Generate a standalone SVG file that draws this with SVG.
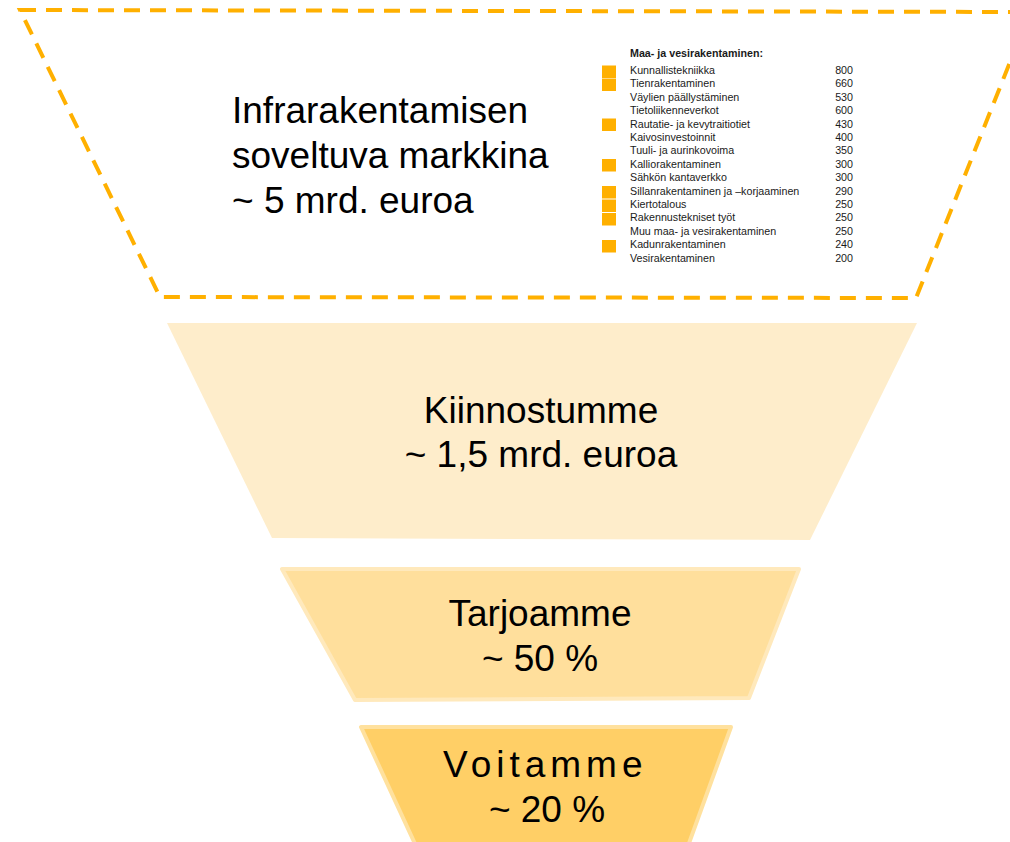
<svg xmlns="http://www.w3.org/2000/svg" width="1010" height="842" viewBox="0 0 1010 842">
<style>
.big{font-family:"Liberation Sans",Arial,sans-serif;font-size:37px;fill:#000}
.c{text-anchor:middle}
.lg{font-family:"Liberation Sans",Arial,sans-serif;font-size:10.7px;fill:#1a1a1a}
.v{text-anchor:end}
.sq{fill:#FFB000}
</style>
<rect width="1010" height="842" fill="#fff"/>
<g id="market">
<path d="M20 10 L1030 12 L916 298 L160 297 Z" fill="none" stroke="#FFB000" stroke-width="4" stroke-dasharray="16 10"/>
<text class="big" x="232" y="123">Infrarakentamisen</text>
<text class="big" x="232" y="168">soveltuva markkina</text>
<text class="big" x="232" y="213">~ 5 mrd. euroa</text>
</g>
<g id="legend">
<text class="lg" x="630" y="57" font-weight="bold">Maa- ja vesirakentaminen:</text>
<rect class="sq" x="602" y="65.5" width="14" height="12.5"/>
<rect class="sq" x="602" y="78.5" width="14" height="12.5"/>
<rect class="sq" x="602" y="118.5" width="14" height="12.5"/>
<rect class="sq" x="602" y="159" width="14" height="12.5"/>
<rect class="sq" x="602" y="186" width="14" height="12.5"/>
<rect class="sq" x="602" y="199.5" width="14" height="12.5"/>
<rect class="sq" x="602" y="213" width="14" height="12.5"/>
<rect class="sq" x="602" y="240" width="14" height="12.5"/>
<text class="lg" x="630" y="74">Kunnallistekniikka</text><text class="lg v" x="853" y="74">800</text>
<text class="lg" x="630" y="87.4">Tienrakentaminen</text><text class="lg v" x="853" y="87.4">660</text>
<text class="lg" x="630" y="100.8">Väylien päällystäminen</text><text class="lg v" x="853" y="100.8">530</text>
<text class="lg" x="630" y="114.2">Tietoliikenneverkot</text><text class="lg v" x="853" y="114.2">600</text>
<text class="lg" x="630" y="127.6">Rautatie- ja kevytraitiotiet</text><text class="lg v" x="853" y="127.6">430</text>
<text class="lg" x="630" y="141">Kaivosinvestoinnit</text><text class="lg v" x="853" y="141">400</text>
<text class="lg" x="630" y="154.4">Tuuli- ja aurinkovoima</text><text class="lg v" x="853" y="154.4">350</text>
<text class="lg" x="630" y="167.8">Kalliorakentaminen</text><text class="lg v" x="853" y="167.8">300</text>
<text class="lg" x="630" y="181.2">Sähkön kantaverkko</text><text class="lg v" x="853" y="181.2">300</text>
<text class="lg" x="630" y="194.6">Sillanrakentaminen ja –korjaaminen</text><text class="lg v" x="853" y="194.6">290</text>
<text class="lg" x="630" y="208">Kiertotalous</text><text class="lg v" x="853" y="208">250</text>
<text class="lg" x="630" y="221.4">Rakennustekniset työt</text><text class="lg v" x="853" y="221.4">250</text>
<text class="lg" x="630" y="234.8">Muu maa- ja vesirakentaminen</text><text class="lg v" x="853" y="234.8">250</text>
<text class="lg" x="630" y="248.2">Kadunrakentaminen</text><text class="lg v" x="853" y="248.2">240</text>
<text class="lg" x="630" y="261.6">Vesirakentaminen</text><text class="lg v" x="853" y="261.6">200</text>
</g>
<g id="interest">
<path d="M167 323 L917 323 L810 540 L272 538 Z" fill="#FEEDCB"/>
<text class="big c" x="541" y="423">Kiinnostumme</text>
<text class="big c" x="541" y="467">~ 1,5 mrd. euroa</text>
</g>
<g id="offer">
<path d="M282 569 L799 569 L749 698 L355 700 Z" fill="#FFDF9C" stroke="#FFE9BC" stroke-width="4" stroke-linejoin="round"/>
<text class="big c" x="540" y="626">Tarjoamme</text>
<text class="big c" x="540" y="671">~ 50 %</text>
</g>
<g id="win">
<path d="M361 727 L731 727 L688 846 L416 846 Z" fill="#FFCF66" stroke="#FFE19E" stroke-width="4" stroke-linejoin="round"/>
<text class="big" x="443" y="777" letter-spacing="5">Voitamme</text>
<text class="big c" x="547" y="822">~ 20 %</text>
</g>
</svg>
